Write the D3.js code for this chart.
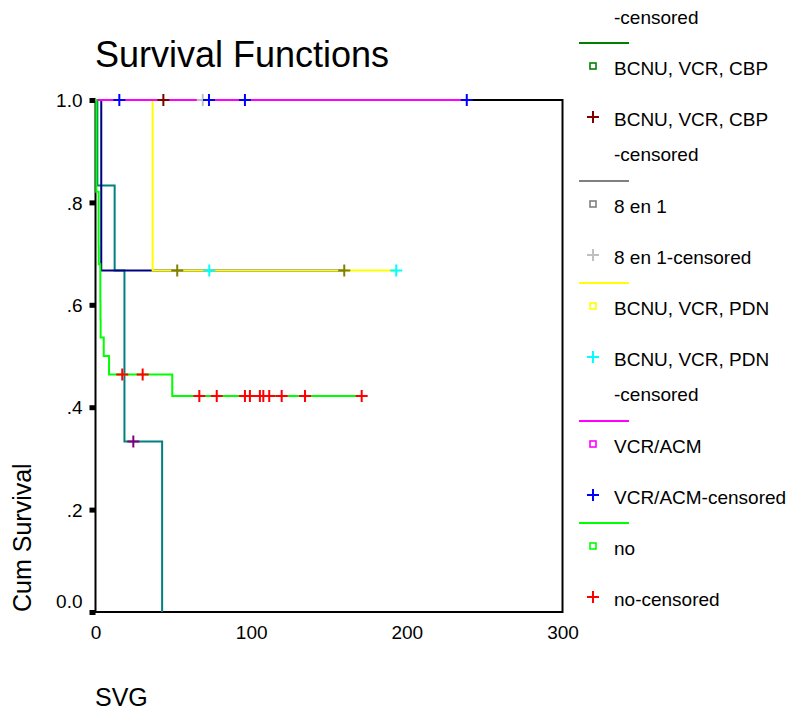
<!DOCTYPE html>
<html>
<head>
<meta charset="utf-8">
<script src="https://cdn.jsdelivr.net/npm/d3@7"></script>
<style>
  body { margin: 0; background: #fff; }
  svg text { font-family: "Liberation Sans", Arial, sans-serif; fill: #000; }
</style>
</head>
<body>
<div id="chart"></div>
<script>
// Kaplan-Meier steps: time of each step and survival after it.
// The last entry of each series is the end of follow-up (no drop).
var tealTimes = [0, 1.2, 12.3, 18.6, 42.8];
var tealSurv  = [1, 0.833, 0.667, 0.333, 0];
var tealCens  = [24.3];

var navyTimes = [0, 3.7, 159.8];
var navySurv  = [1, 0.667, 0.667];
var navyCens  = [52.5, 159.8];

var cbpTimes = [0, 43.6];
var cbpSurv  = [1, 1];
var cbpCens  = [43.6];

var ochoTimes = [0, 68.9];
var ochoSurv  = [1, 1];
var ochoCens  = [68.9];

var pdnTimes = [0, 36.7, 193.2];
var pdnSurv  = [1, 0.667, 0.667];
var pdnCens  = [73.1, 193.2];

var acmTimes = [0, 238.5];
var acmSurv  = [1, 1];
var acmCens  = [15.3, 72.9, 96.0, 238.5];

var noTimes = [0, 0.5, 2.0, 2.1, 3.1, 3.2, 3.3, 5.3, 8.7, 49.3, 171.0];
var noSurv  = [1, 0.821, 0.714, 0.679, 0.607, 0.571, 0.536, 0.5, 0.464, 0.422, 0.422];
var noCens  = [17.2, 30.3, 66.7, 77.9, 96.0, 99.2, 105.6, 107.8, 111.6, 119.6, 134.6, 171.0];

var xTicks = [0, 100, 200, 300];
var yTicks = [0, 0.2, 0.4, 0.6, 0.8, 1.0];

// legend groups (only the part that fits on the page)
var legendGroups = ["BCNU, VCR, CBP", "8 en 1", "BCNU, VCR, PDN", "VCR/ACM", "no"];
var legendCensLabels = [["BCNU, VCR, CBP", "-censored"], ["8 en 1-censored"],
                        ["BCNU, VCR, PDN", "-censored"], ["VCR/ACM-censored"], ["no-censored"]];

var series = [
  { times: tealTimes, surv: tealSurv, cens: tealCens, line: "#008080", mark: "#800080" },
  { times: navyTimes, surv: navySurv, cens: navyCens, line: "#000080", mark: "#808000" },
  { times: cbpTimes,  surv: cbpSurv,  cens: cbpCens,  line: "#008000", mark: "#800000" },
  { times: ochoTimes, surv: ochoSurv, cens: ochoCens, line: "#808080", mark: "#c0c0c0" },
  { times: pdnTimes,  surv: pdnSurv,  cens: pdnCens,  line: "#ffff00", mark: "#00ffff" },
  { times: acmTimes,  surv: acmSurv,  cens: acmCens,  line: "#ff00ff", mark: "#0000ff" },
  { times: noTimes,   surv: noSurv,   cens: noCens,   line: "#00ff00", mark: "#ff0000" }
];
var legendSeries = series.slice(2);

var w = 801, h = 713;
var plotL = 95.5, plotR = 562.5, plotT = 100, plotB = 612;

var svg = d3.select("#chart").append("svg").attr("width", w).attr("height", h);
svg.append("rect").attr("width", w).attr("height", h).attr("fill", "#fff");

var x = d3.scaleLinear().domain([0, 300]).range([plotL, plotR]);
var y = d3.scaleLinear().domain([0, 1]).range([plotB, plotT]);

// frame
svg.append("rect")
  .attr("x", plotL).attr("y", plotT)
  .attr("width", plotR - plotL).attr("height", plotB - plotT)
  .attr("fill", "none").attr("stroke", "#000").attr("stroke-width", 2);

// axes
var yAxis = d3.axisLeft(y).tickValues(yTicks).tickSize(6).tickPadding(7)
  .tickFormat(function(d) {
    if (d === 0) return "0.0";
    if (d === 1) return "1.0";
    return d3.format(".1f")(d).replace("0.", ".");
  });
var gy = svg.append("g").attr("transform", "translate(" + plotL + ",0)").call(yAxis);
gy.select(".domain").remove();
gy.selectAll(".tick line").attr("stroke-width", 5);
gy.selectAll(".tick text").style("font-size", "19px")
  .attr("dy", function(d) { return d === 0 ? "-0.23em" : "0.35em"; });

var xAxis = d3.axisBottom(x).tickValues(xTicks).tickSize(0).tickPadding(14)
  .tickFormat(d3.format("d"));
var gx = svg.append("g").attr("transform", "translate(0," + plotB + ")").call(xAxis);
gx.select(".domain").remove();
gx.selectAll(".tick text").style("font-size", "19px");

// step curves
var stepLine = d3.line()
  .x(function(d) { return x(d[0]); })
  .y(function(d) { return y(d[1]); })
  .curve(d3.curveStepAfter);

series.forEach(function(s) {
  var pts = s.times.map(function(t, i) { return [t, s.surv[i]]; });
  svg.append("path")
    .attr("d", stepLine(pts))
    .attr("fill", "none")
    .attr("stroke", s.line)
    .attr("stroke-width", 2);
});

function survAt(s, t) {
  var i = d3.bisectRight(s.times, t) - 1;
  return s.surv[Math.max(0, i)];
}

var plus = "M-6,0H6M0,-6V6";
series.forEach(function(s) {
  svg.selectAll(null)
    .data(s.cens)
    .enter()
    .append("path")
    .attr("d", plus)
    .attr("transform", function(t) { return "translate(" + x(t) + "," + y(survAt(s, t)) + ")"; })
    .attr("fill", "none")
    .attr("stroke", s.mark)
    .attr("stroke-width", 2);
});

// titles
svg.append("text").attr("x", 95).attr("y", 67)
  .style("font-size", "36px").text("Survival Functions");
svg.append("text").attr("x", 95).attr("y", 706)
  .style("font-size", "25px").text("SVG");
svg.append("text").attr("transform", "translate(31," + plotB + ") rotate(-90)")
  .style("font-size", "25px").text("Cum Survival");

// legend
var lg = svg.append("g");
var lineX0 = 579, lineX1 = 629, markX = 593, textX = 614;
var ly = 43;
lg.append("text").attr("x", textX).attr("y", ly - 26).attr("dy", "0.35em")
  .style("font-size", "19px").text("-censored");

legendSeries.forEach(function(s, i) {
  lg.append("line").attr("x1", lineX0).attr("x2", lineX1).attr("y1", ly).attr("y2", ly)
    .attr("stroke", s.line).attr("stroke-width", 2);
  var sy = ly + 25;
  lg.append("rect").attr("x", markX - 3).attr("y", sy - 5).attr("width", 6).attr("height", 6)
    .attr("fill", "#fff").attr("stroke", s.line).attr("stroke-width", 1.6);
  lg.append("text").attr("x", textX).attr("y", sy).attr("dy", "0.35em")
    .style("font-size", "19px").text(legendGroups[i]);
  var py = ly + 76;
  lg.append("path").attr("d", plus).attr("transform", "translate(" + markX + "," + (py - 2) + ")")
    .attr("stroke", s.mark).attr("stroke-width", 2);
  legendCensLabels[i].forEach(function(t, j) {
    lg.append("text").attr("x", textX).attr("y", py + j * 35).attr("dy", "0.35em")
      .style("font-size", "19px").text(t);
  });
  ly += legendCensLabels[i].length > 1 ? 138 : 102;
});
</script>
</body>
</html>
